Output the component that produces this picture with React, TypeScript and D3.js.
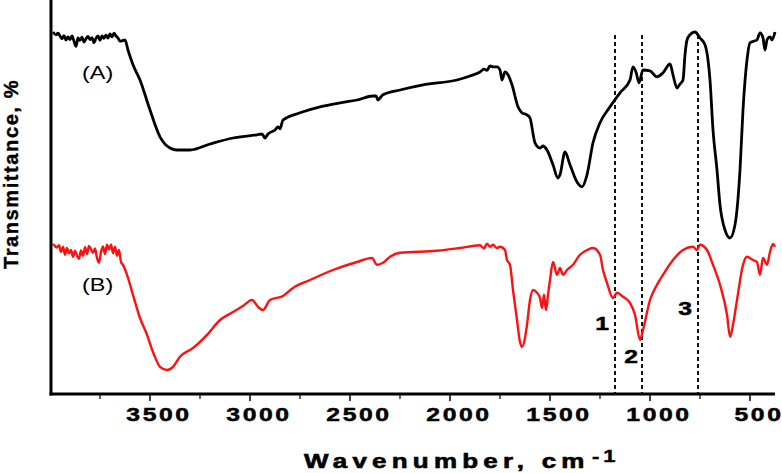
import React from "react";
import * as d3 from "d3";

// Spectrum (A) — black
const waveA = [
  3985, 3970, 3960, 3950, 3940, 3930, 3920, 3910, 3900, 3890, 3880, 3870, 3860, 3850, 3840, 3830, 3820, 3810,
  3800, 3790, 3780, 3770, 3760, 3750, 3740, 3730, 3720, 3710, 3700, 3690, 3680, 3670, 3660, 3650,
  3625, 3610, 3585, 3550, 3500, 3450, 3400, 3365, 3300, 3200, 3085, 2965, 2940, 2925, 2910, 2875, 2860, 2850,
  2835, 2750, 2650, 2550, 2465, 2385, 2370, 2360, 2345, 2335, 2250, 2135, 1965, 1900, 1850, 1830, 1815, 1800,
  1785, 1765, 1750, 1740, 1725, 1710, 1690, 1660, 1640, 1615, 1600, 1575, 1550, 1535, 1515, 1485, 1460, 1450,
  1425, 1400, 1365, 1340, 1315, 1285, 1250, 1200, 1150, 1100, 1085, 1070, 1055, 1035, 1000, 965, 935, 900,
  885, 865, 850, 835, 825, 815, 800, 775, 750, 725, 710, 700, 685, 665, 650, 625, 600, 575, 550, 535, 515,
  500, 475, 465, 450, 435, 425, 415, 400, 390, 375,
];
const transA = [
  90.5, 89.8, 90.2, 89.5, 88.8, 89.6, 88.5, 89.3, 88.6, 89.5, 88.2, 86.9, 89.0, 88.4, 89.2, 88.0, 88.8, 89.4,
  88.6, 89.1, 87.8, 88.9, 89.5, 88.4, 89.5, 88.9, 89.7, 89.0, 90.0, 89.3, 90.2, 89.5, 89.0, 88.2,
  88.5, 86.0, 82.3, 78.5, 71.0, 64.3, 61.5, 61.0, 61.0, 62.5, 64.0, 64.8, 65.0, 64.0, 65.0, 66.0, 66.8, 66.3,
  68.5, 70.3, 71.8, 72.8, 73.5, 74.5, 74.5, 73.5, 74.3, 74.8, 76.0, 77.3, 78.5, 79.5, 80.5, 81.2, 80.9, 82.0,
  81.8, 81.8, 81.0, 78.5, 80.5, 79.8, 77.3, 71.8, 70.3, 69.8, 69.0, 62.8, 61.5, 62.0, 61.0, 57.3, 54.0, 54.8,
  60.5, 57.3, 53.0, 51.8, 54.8, 62.8, 67.8, 71.8, 75.3, 78.5, 81.8, 80.5, 77.8, 81.0, 80.8, 79.3, 80.3, 82.5,
  79.8, 76.5, 77.5, 78.5, 84.8, 88.5, 89.8, 90.5, 89.0, 87.3, 83.5, 78.5, 66.0, 56.0, 47.3, 41.0, 39.0, 42.3, 56.0, 71.0, 83.5,
  87.8, 88.3, 88.5, 90.3, 89.0, 86.0, 88.5, 89.3, 88.5, 90.5,
];

// Spectrum (B) — red
const waveB = [
  3985, 3975, 3965, 3955, 3945, 3935, 3925, 3915, 3905, 3895, 3885, 3875, 3865, 3855, 3845, 3835, 3825, 3815,
  3805, 3795, 3785, 3775, 3765, 3755, 3745, 3735, 3725, 3715, 3705, 3695, 3685, 3675, 3665, 3655, 3645, 3635,
  3615, 3585, 3550, 3515, 3485, 3450, 3415, 3385, 3350, 3285, 3215, 3150, 3085, 3035, 2990, 2960, 2935, 2900,
  2835, 2785, 2700, 2585, 2465, 2390, 2365, 2335, 2300, 2250, 2065, 1950, 1850, 1830, 1815, 1800, 1785, 1765,
  1750, 1725, 1715, 1700, 1685, 1665, 1650, 1640, 1615, 1600, 1585, 1565, 1550, 1540, 1530, 1520, 1510, 1500,
  1485, 1465, 1450, 1435, 1415, 1385, 1350, 1315, 1285, 1250, 1235, 1215, 1185, 1165, 1135, 1100, 1075, 1050,
  1035, 1000, 965, 935, 885, 835, 785, 765, 750, 715, 685, 650, 615, 600, 585, 565, 535, 515, 485, 465, 450,
  435, 415, 400, 385, 375,
];
const transB = [
  37.5, 37.0, 36.6, 37.2, 35.5, 36.8, 34.8, 36.5, 35.2, 36.0, 34.3, 35.8, 34.6, 33.8, 35.9, 34.5, 36.7, 35.0,
  37.0, 36.2, 35.3, 36.4, 34.0, 32.8, 35.5, 36.9, 35.0, 37.3, 36.1, 37.4, 35.2, 36.8, 34.5, 36.0, 33.0, 32.3,
  29.8, 24.8, 19.0, 14.8, 10.5, 6.8, 6.0, 6.8, 9.3, 11.5, 14.8, 18.5, 20.5, 22.0, 23.5, 21.8, 21.0, 23.5,
  24.5, 26.5, 28.5, 31.0, 33.0, 34.0, 32.3, 32.8, 34.3, 35.3, 35.8, 36.5, 37.2, 36.4, 37.6, 36.8, 37.3, 36.5,
  36.8, 36.0, 33.5, 32.3, 26.0, 18.5, 13.0, 11.8, 17.3, 23.5, 26.0, 25.3, 24.0, 21.5, 24.8, 21.0, 24.8, 28.5,
  33.0, 29.8, 31.5, 29.8, 31.0, 32.3, 34.8, 36.0, 36.5, 34.8, 31.0, 27.8, 24.0, 25.3, 24.3, 22.8, 19.8, 13.5,
  16.0, 23.5, 27.3, 29.8, 33.5, 36.0, 36.8, 36.0, 37.3, 36.0, 32.3, 27.3, 19.8, 14.3, 17.3, 23.5, 32.3, 34.3, 33.5, 33.0, 29.8,
  34.0, 32.3, 35.5, 37.5, 36.8,
];

const majorTicks = [3500, 3000, 2500, 2000, 1500, 1000, 500];
const minorTicks = [3750, 3250, 2750, 2250, 1750, 1250, 750];
const markerLines = [1175, 1040, 760];
const markerLabels = ["1", "2", "3"];
const markerLabelT = [16, 7.75, 19.75];

const W = 782;
const H = 473;
const FONT = "'Liberation Sans', Arial, sans-serif";
const SX = 1.3;

export default function App() {
  const x = d3.scaleLinear().domain([4000, 375]).range([50, 775]);
  const y = d3.scaleLinear().domain([0, 100]).range([394, -6]);
  const line = d3
    .line<[number, number]>()
    .x((d) => x(d[0]))
    .y((d) => y(d[1]))
    .curve(d3.curveMonotoneX);
  const dataA = waveA.map((w, i) => [w, transA[i]] as [number, number]);
  const dataB = waveB.map((w, i) => [w, transB[i]] as [number, number]);

  const markerDx = [-13, -11, -13];

  return (
    <svg
      width={W}
      height={H}
      style={{ position: "absolute", left: 0, top: 0, background: "#fff" }}
      fontFamily={FONT}
    >
      {/* dashed marker lines */}
      {markerLines.map((m) => (
        <line
          key={m}
          x1={x(m)}
          x2={x(m)}
          y1={35}
          y2={y(0)}
          stroke="#111"
          strokeWidth={2}
          strokeDasharray="4,3"
        />
      ))}
      <path d={line(dataA) || ""} fill="none" stroke="#000" strokeWidth={2.8} strokeLinejoin="round" />
      <path d={line(dataB) || ""} fill="none" stroke="#ff1010" strokeWidth={2.4} strokeLinejoin="round" />

      {/* axes */}
      <line x1={51} x2={51} y1={0} y2={395.5} stroke="#000" strokeWidth={3} />
      <line x1={49.5} x2={x(375)} y1={394} y2={394} stroke="#000" strokeWidth={3} />
      {majorTicks.map((t) => (
        <line key={"M" + t} x1={x(t)} x2={x(t)} y1={394} y2={401} stroke="#000" strokeWidth={1.5} />
      ))}
      {minorTicks.map((t) => (
        <line key={"m" + t} x1={x(t)} x2={x(t)} y1={394} y2={399} stroke="#000" strokeWidth={1.2} />
      ))}
      {majorTicks.map((t) => (
        <g key={"L" + t} transform={`translate(${x(t) + 9},420.5) scale(${SX},1)`}>
          <text
            textAnchor="middle"
            fontSize={19}
            fontWeight="bold"
            letterSpacing={2}
            stroke="#000"
            strokeWidth={0.5}
          >
            {t}
          </text>
        </g>
      ))}

      {/* axis titles */}
      <g transform={`translate(304,467.5) scale(${SX},1)`}>
        <text fontSize={20} fontWeight="bold" letterSpacing={4} stroke="#000" strokeWidth={0.6}>
          Wavenumber, cm
        </text>
      </g>
      <g transform={`translate(592,462) scale(${SX},1)`}>
        <text fontSize={17} fontWeight="bold" letterSpacing={3} stroke="#000" strokeWidth={0.4}>
          -1
        </text>
      </g>
      <g transform="translate(18,174) rotate(-90)">
        <text
          textAnchor="middle"
          fontSize={20}
          fontWeight="bold"
          letterSpacing={1.6}
          stroke="#000"
          strokeWidth={0.4}
        >
          Transmittance, %
        </text>
      </g>

      {/* series labels */}
      <g transform={`translate(82,78.5) scale(${SX},1)`}>
        <text fontSize={18}>(A)</text>
      </g>
      <g transform={`translate(82,290.5) scale(${SX},1)`}>
        <text fontSize={18}>(B)</text>
      </g>
      {markerLines.map((m, i) => (
        <g
          key={"n" + m}
          transform={`translate(${x(m) + markerDx[i]},${y(markerLabelT[i])}) scale(${SX},1)`}
        >
          <text textAnchor="middle" fontSize={19} fontWeight="bold" stroke="#000" strokeWidth={0.5}>
            {markerLabels[i]}
          </text>
        </g>
      ))}
    </svg>
  );
}
